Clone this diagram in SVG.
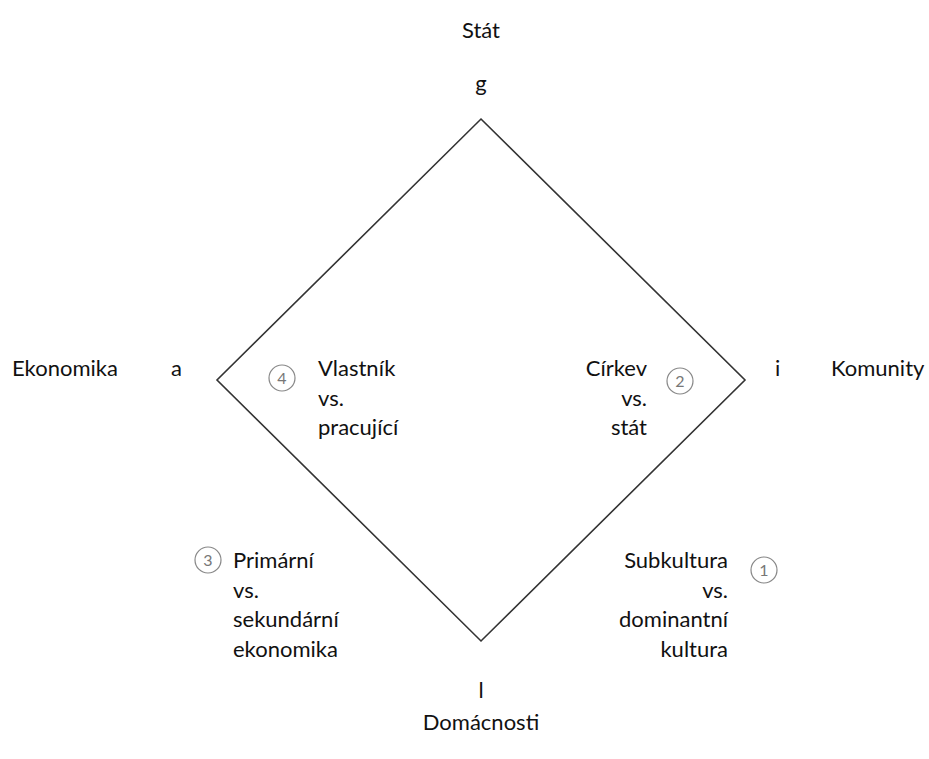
<svg xmlns="http://www.w3.org/2000/svg" width="929" height="759" viewBox="0 0 929 759">
<style>
.t{font-family:Lato,"Open Sans","Liberation Sans",sans-serif;font-size:22px;fill:#111}
.e{text-anchor:end}
.m{text-anchor:middle}
.c{fill:none;stroke:#888;stroke-width:1.2}
.n{font-family:Lato,"Liberation Sans",sans-serif;font-size:16px;fill:#777;text-anchor:middle}
.ln{fill:none;stroke:#333;stroke-width:1.6}
</style>
<rect width="929" height="759" fill="#fff"/>
<g id="connectors">
<path class="ln" d="M481,119 L745,380 L481,641 L217,380 Z"/>
</g>
<g id="stat"><text class="t m" x="481" y="38">Stát</text><text class="t m" x="481" y="91">g</text></g>
<g id="ekonomika"><text class="t" x="12" y="376">Ekonomika</text><text class="t" x="171" y="376">a</text></g>
<g id="komunity"><text class="t" x="775" y="376">i</text><text class="t" x="831" y="376">Komunity</text></g>
<g id="domacnosti"><text class="t m" x="481" y="698">l</text><text class="t m" x="481" y="730">Domácnosti</text></g>
<g id="n4"><circle class="c" cx="282" cy="378" r="13"/><text class="n" x="282" y="384">4</text>
<text class="t" x="318" y="376">Vlastník</text><text class="t" x="318" y="405.5">vs.</text><text class="t" x="318" y="435">pracující</text></g>
<g id="n2"><circle class="c" cx="680" cy="381" r="13"/><text class="n" x="680" y="387">2</text>
<text class="t e" x="647" y="376">Církev</text><text class="t e" x="647" y="405.5">vs.</text><text class="t e" x="647" y="435">stát</text></g>
<g id="n3"><circle class="c" cx="208" cy="560" r="13"/><text class="n" x="208" y="566">3</text>
<text class="t" x="233" y="568">Primární</text><text class="t" x="233" y="597.5">vs.</text><text class="t" x="233" y="627">sekundární</text><text class="t" x="233" y="656.5">ekonomika</text></g>
<g id="n1"><circle class="c" cx="764" cy="570" r="13"/><text class="n" x="764" y="576">1</text>
<text class="t e" x="728" y="568">Subkultura</text><text class="t e" x="728" y="597.5">vs.</text><text class="t e" x="728" y="627">dominantní</text><text class="t e" x="728" y="656.5">kultura</text></g>
</svg>
